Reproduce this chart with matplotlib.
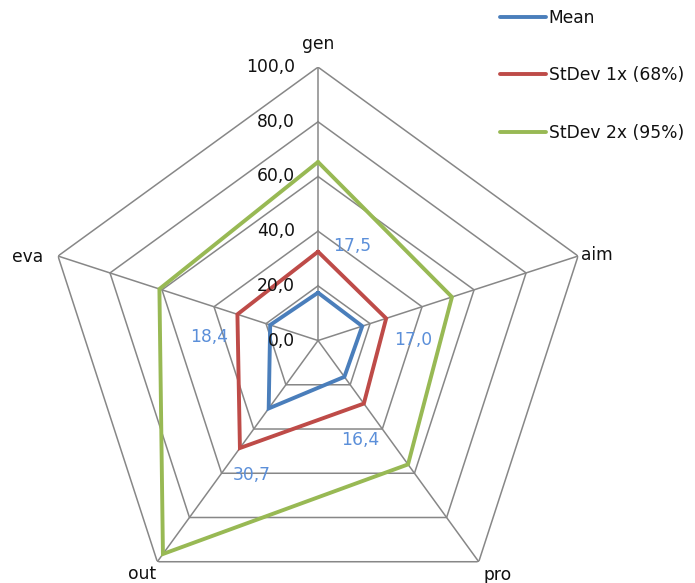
import numpy as np
import matplotlib
matplotlib.use("Agg")
import matplotlib.pyplot as plt

categories = ["gen", "aim", "pro", "out", "eva"]
mean_vals = [17.5, 17.0, 16.4, 30.7, 18.4]
sd1_vals = [32.5, 26.2, 28.5, 48.6, 31.0]
sd2_vals = [65.3, 51.5, 56.0, 96.5, 61.0]
series_names = ["Mean", "StDev 1x (68%)", "StDev 2x (95%)"]
tick_values = [0, 20, 40, 60, 80, 100]
tick_labels = ["0,0", "20,0", "40,0", "60,0", "80,0", "100,0"]
mean_labels = ["17,5", "17,0", "16,4", "30,7", "18,4"]

colors = ["#4A7EBB", "#BE4B48", "#98B954"]
label_color = "#5B8FD9"
grid_color = "#878787"
text_color = "#111111"
fs = 12.3

plt.rcParams['font.family'] = ['DejaVu Sans']

fig = plt.figure(figsize=(6.95, 5.83), dpi=100)
ax = fig.add_axes([0.0641, -0.0531, 0.787, 0.938], projection="polar")
ax.set_theta_offset(np.pi / 2)
ax.set_theta_direction(-1)
ax.set_ylim(0, 100)
ax.axis("off")

n = len(categories)
theta = np.linspace(0, 2 * np.pi, n, endpoint=False)
theta_c = np.append(theta, theta[0])

# grid
for r in tick_values[1:]:
    ax.plot(theta_c, [r] * (n + 1), color=grid_color, lw=1.1, zorder=1)
for t in theta:
    ax.plot([t, t], [0, 100], color=grid_color, lw=1.1, zorder=1)

# series
for vals, c, name in zip([mean_vals, sd1_vals, sd2_vals], colors, series_names):
    v = np.append(vals, vals[0])
    ax.plot(theta_c, v, color=c, lw=2.8, label=name, zorder=3,
            solid_joinstyle="miter", solid_capstyle="round")

# tick labels along top axis
for r, lab in zip(tick_values, tick_labels):
    ax.annotate(lab, xy=(0, r), xytext=(-23, 0), textcoords="offset pixels",
                ha="right", va="center", fontsize=fs, color=text_color,
                annotation_clip=False, zorder=4)

# category labels
cat_r = [108.6, 106.5, 108.0, 107.0, 110.5]
cat_dt = [0, 1.0, -1.4, 1.0, -2.0]
for t, lab, rr, dt in zip(theta, categories, cat_r, cat_dt):
    ax.text(t + np.deg2rad(dt), rr, lab, ha="center", va="center", fontsize=fs,
            color=text_color, clip_on=False)

# mean data labels
offsets = [(34, 47), (51, -14), (16, -63), (-17, -67), (-61, -12)]
for t, v, lab, off in zip(theta, mean_vals, mean_labels, offsets):
    ax.annotate(lab, xy=(t, v), xytext=off, textcoords="offset pixels",
                ha="center", va="center", fontsize=fs, color=label_color,
                annotation_clip=False, zorder=5)

leg = fig.legend(loc="upper left", bbox_to_anchor=(500 / 695, 1 - 9 / 583),
                 frameon=False, fontsize=fs, handlelength=2.7,
                 handletextpad=0.15, labelspacing=2.3, borderaxespad=0,
                 borderpad=0)
for txt in leg.get_texts():
    txt.set_color(text_color)

fig.savefig("out.png", dpi=100)
